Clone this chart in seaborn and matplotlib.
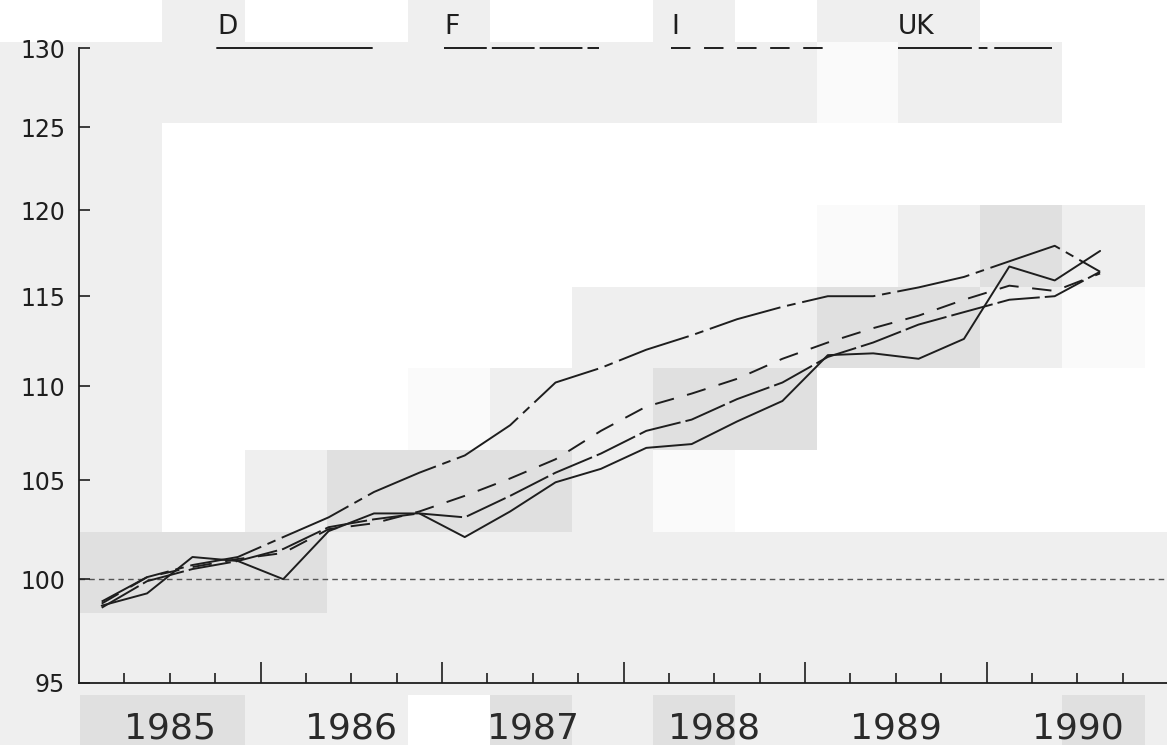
"""
Price index by country, quarterly 1985-1990 (1985 = 100), log scale
"""

import numpy as np
import pandas as pd
import matplotlib
matplotlib.use("Agg")
import matplotlib.pyplot as plt
import matplotlib.transforms as mtransforms
from matplotlib.ticker import FixedLocator, NullLocator, FixedFormatter
import seaborn as sns

# -----------------------------
# Data
# -----------------------------
years = [1985, 1986, 1987, 1988, 1989, 1990]
countries = ["D", "F", "I", "UK"]
quarters = [f"{y}Q{q}" for y in years for q in range(1, 5)][:23]

d_values = [98.7, 99.3, 101.1, 100.9, 100.0, 102.4, 103.3, 103.3, 102.1, 103.4,
            104.9, 105.6, 106.7, 106.9, 108.1, 109.2, 111.7, 111.8, 111.5, 112.6,
            116.7, 115.9, 117.6]
f_values = [98.6, 99.9, 100.5, 100.9, 101.5, 102.6, 103.0, 103.3, 103.1, 104.2,
            105.4, 106.4, 107.6, 108.2, 109.3, 110.2, 111.6, 112.4, 113.4, 114.1,
            114.8, 115.0, 116.4]
i_values = [98.8, 100.1, 100.6, 101.0, 101.3, 102.5, 102.8, 103.4, 104.2, 105.1,
            106.1, 107.6, 108.9, 109.6, 110.4, 111.5, 112.4, 113.2, 113.9, 114.8,
            115.6, 115.3, 116.3]
uk_values = [98.9, 100.1, 100.7, 101.1, 102.1, 103.1, 104.4, 105.4, 106.3, 107.9,
             110.2, 111.0, 112.0, 112.8, 113.7, 114.4, 115.0, 115.0, 115.5, 116.1,
             117.0, 117.9, 116.4]

y_ticks = [95, 100, 105, 110, 115, 120, 125, 130]

# -----------------------------
# Long-form table
# -----------------------------
series = {"D": d_values, "F": f_values, "I": i_values, "UK": uk_values}
rows = []
for country, vals in series.items():
    for period, v in zip(quarters, vals):
        y, q = int(period[:4]), int(period[-1])
        rows.append({"country": country, "pos": (y - years[0]) * 4 + (q - 1) + 0.5, "index": v})
df = pd.DataFrame(rows)

# -----------------------------
# Scanned-paper background (blocky grey shading of the original scan)
# -----------------------------
W, L, G, D = 255, 250, 239, 224
col_edges = [0, 80, 162, 245, 327, 408, 490, 572, 653, 735, 817, 898, 980, 1062, 1145, 1167]
row_edges = [0, 42, 123, 205, 287, 368, 450, 532, 613, 695, 745]
shade = np.array([
    [W, W, G, W, W, G, W, W, G, W, G, G, W, W, W],
    [G, G, G, G, G, G, G, G, G, G, L, G, G, W, W],
    [G, G, W, W, W, W, W, W, W, W, W, W, W, W, W],
    [G, G, W, W, W, W, W, W, W, W, L, G, D, G, W],
    [G, G, W, W, W, W, W, G, G, G, D, D, G, L, W],
    [G, G, W, W, W, L, G, G, D, D, W, W, W, W, W],
    [G, G, W, G, D, D, D, G, L, W, W, W, W, W, W],
    [G, D, D, D, G, G, G, G, G, G, G, G, G, G, G],
    [G, G, G, G, G, G, G, G, G, G, G, G, G, G, G],
    [G, D, D, G, G, W, D, G, D, G, G, G, G, D, G],
], dtype=float)
bg = np.repeat(np.repeat(shade, np.diff(row_edges), axis=0), np.diff(col_edges), axis=1)

# -----------------------------
# Plot
# -----------------------------
sns.set_style("ticks")
plt.rcParams["font.family"] = ["DejaVu Sans"]

ink = "#1e1e1e"
line_styles = {"D": "", "F": (22, 2.6), "I": (10, 7), "UK": (38, 3.5, 4.5, 3.5)}

fig = plt.figure(figsize=(11.67, 7.45), dpi=100, facecolor="#efefef")
fig.figimage(bg, xo=0, yo=0, origin="upper", cmap="gray", vmin=0, vmax=255, zorder=-10)
ax = fig.add_axes([79 / 1167, 1 - 683 / 745, 1 - 79 / 1167 + 0.001, 635 / 745])
ax.set_zorder(1)
ax.set_facecolor("none")

sns.lineplot(data=df, x="pos", y="index", style="country", dashes=line_styles,
             color=ink, linewidth=1.4, legend=False, ax=ax)

ax.axhline(100, color="#555555", linewidth=1.0, linestyle=(0, (4, 3)), zorder=0)

ax.set_yscale("log")
ax.set_ylim(95, 130)
ax.yaxis.set_major_locator(FixedLocator(y_ticks))
ax.yaxis.set_major_formatter(FixedFormatter([str(t) for t in y_ticks]))
ax.yaxis.set_minor_locator(NullLocator())
ax.tick_params(axis="y", direction="in", length=8, width=1.2, colors=ink,
               labelsize=17, pad=10)

n_q = len(years) * 4
ax.set_xlim(0, n_q)
ax.xaxis.set_major_locator(FixedLocator(list(range(4, n_q, 4))))
ax.xaxis.set_minor_locator(FixedLocator([q for q in range(1, n_q) if q % 4]))
ax.tick_params(axis="x", which="major", direction="in", length=15, width=1.2,
               colors=ink, labelbottom=False)
ax.tick_params(axis="x", which="minor", direction="in", length=7, width=1.2, colors=ink)

xtrans = mtransforms.blended_transform_factory(ax.transData, ax.transAxes)
for k, yr in enumerate(years):
    ax.text(4 * k + 2, -0.088, str(yr), transform=xtrans, ha="center", va="baseline",
            fontsize=26, color="#2a2a2a")

for side in ["top", "right"]:
    ax.spines[side].set_visible(False)
for side in ["left", "bottom"]:
    ax.spines[side].set_color(ink)
    ax.spines[side].set_linewidth(1.3)

ax.set_xlabel("")
ax.set_ylabel("")

# legend drawn above the axes: label over a line sample
for k, country in enumerate(countries):
    x0 = 3.05 + 5 * k
    ln, = ax.plot([x0, x0 + 3.4], [1.0, 1.0], transform=xtrans, color=ink,
                  linewidth=1.4, clip_on=False)
    if line_styles[country]:
        ln.set_dashes(line_styles[country])
    ax.text(x0, 1.012, country, transform=xtrans, ha="left", va="bottom",
            fontsize=19, color=ink)

fig.savefig("out.png", dpi=100, facecolor=fig.get_facecolor())
plt.close(fig)
